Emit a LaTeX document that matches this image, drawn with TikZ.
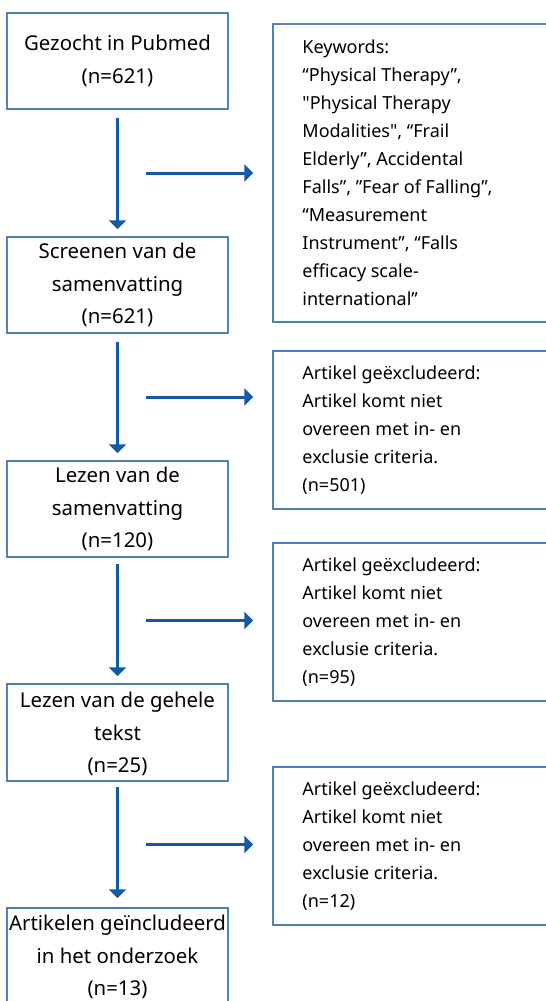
\documentclass[tikz,border=0pt]{standalone}
\usepackage{fontspec}
\setmainfont{Noto Sans}[Ligatures=TeXOff]
\usetikzlibrary{arrows.meta,calc}
\definecolor{boxblue}{RGB}{79,129,189}
\definecolor{arrowblue}{RGB}{16,90,168}
\tikzset{
  stepbox/.style={draw=boxblue,line width=1.5pt,inner sep=0pt,minimum width=221pt},
  notebox/.style={draw=boxblue,line width=1.5pt,inner sep=0pt,minimum width=287pt,minimum height=158pt},
  steptext/.style={align=center,inner sep=0pt,font=\fontsize{20.4}{32.5}\selectfont},
  notetext/.style={align=left,inner sep=0pt,anchor=west,font=\fontsize{18}{28}\selectfont},
  flow/.style={draw=arrowblue,line width=3pt,-{Triangle[width=17pt,length=9pt]}},
}
\begin{document}
\begin{tikzpicture}[x=1pt,y=-1pt]
  \useasboundingbox (0,0) rectangle (546,1001);
  \clip (0,0) rectangle (546,1001);
  % steps on the left
  \draw
    (117.5,61) node[stepbox,minimum height=96pt] (s1){}
    (117.5,285) node[stepbox,minimum height=96pt] (s2){}
    (117.5,509) node[stepbox,minimum height=96pt] (s3){}
    (117.5,732.5) node[stepbox,minimum height=97pt] (s4){}
    (117.5,956.5) node[stepbox,minimum height=97pt] (s5){};
  \node[steptext] (t1) at (s1) {Gezocht in Pubmed\\(n=621)};
  \node[steptext] (t2) at (s2) {Screenen van de\\samenvatting\\(n=621)};
  \node[steptext] (t3) at (s3) {Lezen van de\\samenvatting\\(n=120)};
  \node[steptext] (t4) at (117.5,734) {Lezen van de gehele\\tekst\\(n=25)};
  \node[steptext] (t5) at (117.5,957) {Artikelen geïncludeerd\\in het onderzoek\\(n=13)};
  % notes on the right
  \draw
    (416.5,173) node[notebox,minimum height=298pt] (r1){}
    (416.5,430) node[notebox] (r2){}
    (416.5,622) node[notebox] (r3){}
    (416.5,846) node[notebox] (r4){};
  \node[notetext] (k1) at ([xshift=30pt]r1.west) {Keywords:\\“Physical Therapy”,\\"Physical Therapy\\Modalities", “Frail\\Elderly”, Accidental\\Falls”, ”Fear of Falling”,\\“Measurement\\Instrument”, “Falls\\efficacy scale-\\international”};
  \node[notetext] (k2) at ([xshift=30pt]r2.west) {Artikel geëxcludeerd:\\Artikel komt niet\\overeen met in- en\\exclusie criteria.\\(n=501)};
  \node[notetext] (k3) at ([xshift=30pt]r3.west) {Artikel geëxcludeerd:\\Artikel komt niet\\overeen met in- en\\exclusie criteria.\\(n=95)};
  \node[notetext] (k4) at ([xshift=30pt]r4.west) {Artikel geëxcludeerd:\\Artikel komt niet\\overeen met in- en\\exclusie criteria.\\(n=12)};
  \coordinate (m1) at ($(s1.south)!0.5!(s2.north)$);
  \coordinate (m2) at ($(s2.south)!0.5!(s3.north)$);
  \coordinate (m3) at ($(s3.south)!0.5!(s4.north)$);
  \coordinate (m4) at ($(s4.south)!0.5!(s5.north)$);
  \begin{scope}[flow]
    \draw[shorten <=8pt,shorten >=7pt] (s1.south) -- (s2.north);
    \draw[shorten <=8pt,shorten >=7pt] (s2.south) -- (s3.north);
    \draw[shorten <=6pt,shorten >=7pt] (s3.south) -- (s4.north);
    \draw[shorten <=5pt,shorten >=9pt] (s4.south) -- (s5.north);
    \draw[shorten <=28pt,shorten >=19pt] (m1) -- (m1 -| r1.west);
    \draw[shorten <=28pt,shorten >=19pt] (m2) -- (m2 -| r2.west);
    \draw[shorten <=28pt,shorten >=19pt] (m3) -- (m3 -| r3.west);
    \draw[shorten <=28pt,shorten >=19pt] (m4) -- (m4 -| r4.west);
  \end{scope}
\end{tikzpicture}
\end{document}
